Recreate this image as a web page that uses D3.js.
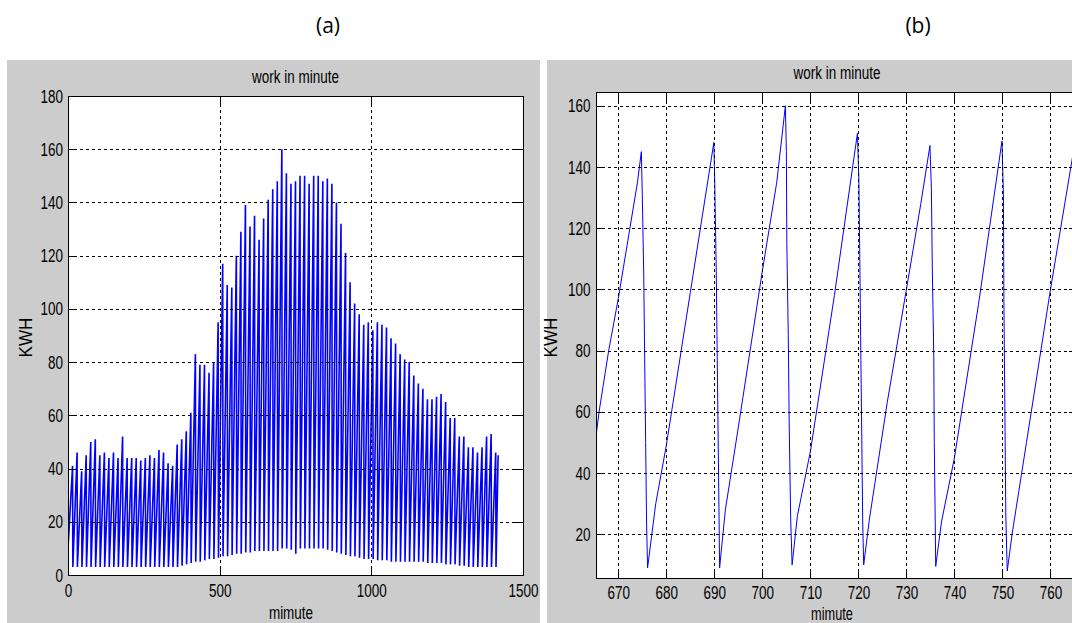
<!DOCTYPE html>
<html lang="en">
<head>
  <meta charset="UTF-8">
  <title>work in minute</title>
  <script src="https://d3js.org/d3.v7.min.js"></script>
  <style>
    body { margin: 0; background: #fff; }
    svg { display: block; }
    .lbl { font-family: "Liberation Sans", Arial, sans-serif; font-size: 19px; fill: #000; }
    .tag { font-family: "Open Sans", "Liberation Sans", sans-serif; font-size: 21px; fill: #000; }
    .grid line { stroke: #000; stroke-dasharray: 3,3; shape-rendering: crispEdges; }
    .ticks line { stroke: #000; shape-rendering: crispEdges; }
  </style>
</head>
<body>
<div id="chart"></div>
<script>
// (a) whole day: one charge/discharge cycle every 15 minutes
const aStartKwh = 10;
const aPeakKwh = [
  41, 46, 39, 45, 50, 51, 45, 46, 44, 46,
  44, 52, 44, 44, 44, 43, 44, 45, 44, 47,
  46, 42, 41, 49, 51, 54, 61, 83, 79, 79,
  76, 80, 95, 117, 109, 108, 120, 129, 139, 131,
  135, 126, 134, 141, 145, 148, 160, 151, 147, 148,
  150, 150, 147, 150, 150, 148, 149, 147, 140, 132,
  121, 110, 102, 98, 94, 95, 92, 95, 94, 93,
  89, 87, 83, 81, 80, 75, 72, 70, 66, 66,
  67, 68, 65, 59, 59, 52, 52, 48, 48, 46,
  48, 52, 53, 46
];
const aTroughKwh = [
  3, 3, 3, 3, 3, 3, 3, 3, 3, 3,
  3, 3, 3, 3, 3, 3, 3, 3, 3, 3,
  3, 3, 3, 3, 3.5, 4, 4.5, 5, 5, 5.5,
  6, 6, 6.5, 7, 7, 7.5, 8, 8, 8.5, 8.5,
  9, 9, 9, 9, 9, 9, 10, 10, 9.5, 8,
  10, 10, 10, 10, 10, 10, 9.5, 9, 8.5, 8,
  7.5, 7, 7, 6.5, 6, 6, 6, 5.5, 5.5, 5.5,
  5, 5, 5, 5, 5, 5, 5, 5, 4.5, 4.5,
  4.5, 4.5, 4, 4, 4, 3.5, 3.5, 3, 3, 3,
  3, 3, 3, 3
];
const aEndMinute = 1418;
const aEndKwh = 45;
const aXTicks = [0, 500, 1000, 1500];
const aYTicks = [0, 20, 40, 60, 80, 100, 120, 140, 160, 180];

// (b) zoom on minutes 665..766
const bMinute = [
  665.36, 666, 668, 670, 672, 674, 674.8, 675.0, 675.3, 675.5, 675.7, 675.9, 676.1,
  677.8, 680, 685, 689.9, 690.1, 690.4, 690.6, 690.8, 691.0, 691.1,
  692.3, 695, 700, 703, 704.8, 705.0, 705.1, 705.4, 705.6, 705.9, 706.2,
  707.3, 710, 715, 719.8, 720.1, 720.3, 720.5, 720.7, 720.9, 721.1,
  722.3, 726, 730, 733, 734.9, 735.2, 735.4, 735.7, 735.8, 736.0, 736.1,
  737.3, 740, 745, 749.9, 750.2, 750.3, 750.5, 750.7, 751.0,
  752, 755, 760, 765.2
];
const bKwh = [
  52, 60, 80, 97, 116, 135, 145, 131, 105, 77, 50, 23, 9,
  30, 49, 99, 148, 134, 106, 78, 51, 23, 9,
  28, 55, 106, 135, 160, 145, 115, 85, 55, 25, 10,
  26, 47, 98, 151, 136, 109, 80, 52, 24, 10,
  25, 63, 100, 128, 147, 133, 106, 78, 50, 24, 9.5,
  24, 45, 95, 148.5, 131, 96, 61, 26, 8,
  20, 50, 100, 149
];
const bXTicks = [670, 680, 690, 700, 710, 720, 730, 740, 750, 760];
const bYTicks = [20, 40, 60, 80, 100, 120, 140, 160];

// build the (a) series: peak at the end of each cycle, trough one minute later
const aSeries = [[0, aStartKwh]];
aPeakKwh.forEach((p, i) => {
  const m = 15 * (i + 1);
  aSeries.push([m, p]);
  aSeries.push([m + 1, aTroughKwh[i]]);
});
aSeries.push([aEndMinute, aEndKwh]);
const bSeries = bMinute.map((m, i) => [m, bKwh[i]]);

const SX = 0.71;  // matlab's tall narrow font

const svg = d3.select("#chart").append("svg")
  .attr("width", 1072)
  .attr("height", 623);

function squeezed(g, x, y, str, opts = {}) {
  const rot = opts.rotate ? ` rotate(${opts.rotate})` : "";
  const t = g.append("text")
    .attr("class", "lbl")
    .attr("text-anchor", "middle")
    .attr("transform", `translate(${x},${y})${rot} scale(${opts.sx || SX},1)`)
    .text(str);
  if (opts.size) t.style("font-size", opts.size + "px");
  return t;
}

function drawPanel(p) {
  const g = svg.append("g");
  g.append("rect")
    .attr("x", p.bg[0]).attr("y", p.bg[1])
    .attr("width", p.bg[2]).attr("height", p.bg[3])
    .attr("fill", "#cccccc");

  const x = d3.scaleLinear().domain(p.xDomain).range([p.left, p.right]);
  const y = d3.scaleLinear().domain(p.yDomain).range([p.bottom, p.top]);
  const w = p.right - p.left;
  const h = p.bottom - p.top;
  const fmt = d3.format("d");

  g.append("rect")
    .attr("x", p.left).attr("y", p.top)
    .attr("width", w).attr("height", h)
    .attr("fill", "#fff");

  g.append("clipPath").attr("id", p.id + "-clip")
    .append("rect")
    .attr("x", p.left).attr("y", p.top)
    .attr("width", w).attr("height", h);

  const line = d3.line().x(d => x(d[0])).y(d => y(d[1]));
  g.append("path")
    .datum(p.series)
    .attr("clip-path", `url(#${p.id}-clip)`)
    .attr("fill", "none")
    .attr("stroke", "#0000ff")
    .attr("stroke-width", p.lineWidth)
    .attr("d", line);

  // dotted grid on top of the data
  g.append("g").attr("class", "grid")
    .attr("transform", `translate(0,${p.bottom})`)
    .call(d3.axisBottom(x).tickValues(p.xTicks).tickSize(-h).tickFormat(""))
    .call(s => s.select(".domain").remove());
  g.append("g").attr("class", "grid")
    .attr("transform", `translate(${p.left},0)`)
    .call(d3.axisLeft(y).tickValues(p.yTicks).tickSize(-w).tickFormat(""))
    .call(s => s.select(".domain").remove());

  // inside ticks on all four sides
  const tk = 9;
  const bottomAxis = g.append("g").attr("class", "ticks")
    .attr("transform", `translate(0,${p.bottom})`)
    .call(d3.axisBottom(x).tickValues(p.xTicks).tickFormat(fmt)
      .tickSizeInner(-tk).tickSizeOuter(0).tickPadding(p.xPad));
  const leftAxis = g.append("g").attr("class", "ticks")
    .attr("transform", `translate(${p.left},0)`)
    .call(d3.axisLeft(y).tickValues(p.yTicks).tickFormat(fmt)
      .tickSizeInner(-tk).tickSizeOuter(0).tickPadding(0));
  g.append("g").attr("class", "ticks")
    .attr("transform", `translate(0,${p.top})`)
    .call(d3.axisTop(x).tickValues(p.xTicks).tickSizeInner(-tk).tickSizeOuter(0).tickFormat(""));
  g.append("g").attr("class", "ticks")
    .attr("transform", `translate(${p.right},0)`)
    .call(d3.axisRight(y).tickValues(p.yTicks).tickSizeInner(-tk).tickSizeOuter(0).tickFormat(""));
  g.selectAll(".ticks .domain").remove();

  bottomAxis.selectAll("text")
    .attr("class", "lbl")
    .attr("transform", `scale(${SX},1)`);
  leftAxis.selectAll("text")
    .attr("class", "lbl")
    .attr("x", -p.yPad / SX)
    .attr("transform", `scale(${SX},1)`);
  g.selectAll(".ticks").attr("font-size", null).attr("font-family", null);

  g.append("rect")
    .attr("x", p.left).attr("y", p.top)
    .attr("width", w).attr("height", h)
    .attr("fill", "none")
    .attr("stroke", "#000")
    .attr("shape-rendering", "crispEdges");

  squeezed(g, (p.left + p.right) / 2, p.titleY, "work in minute");
  squeezed(g, p.xLabel[0], p.xLabel[1], "mimute", { size: p.xLabel[2] });
  squeezed(g, p.yLabel[0], p.yLabel[1], "KWH", { rotate: -90, sx: 0.9 });

  svg.append("text")
    .attr("class", "tag")
    .attr("text-anchor", "middle")
    .attr("x", p.tag[0]).attr("y", p.tag[1])
    .text(p.tagText);
}

drawPanel({
  id: "a", series: aSeries, lineWidth: 1.6,
  bg: [7, 60, 533, 563],
  left: 68, right: 523, top: 96, bottom: 575,
  xDomain: [0, 1500], yDomain: [0, 180],
  xTicks: aXTicks, yTicks: aYTicks,
  xPad: 9, yPad: 5,
  titleY: 83, xLabel: [291, 619, 19], yLabel: [31.5, 337.5],
  tag: [328, 33], tagText: "(a)"
});

drawPanel({
  id: "b", series: bSeries, lineWidth: 1,
  bg: [547, 60, 525, 563],
  left: 596, right: 1078, top: 92, bottom: 578,
  xDomain: [665.36, 765.73], yDomain: [5.7, 164.5],
  xTicks: bXTicks, yTicks: bYTicks,
  xPad: 8, yPad: 5.6,
  titleY: 78.5, xLabel: [832, 620, 18], yLabel: [557, 337.5],
  tag: [918, 33], tagText: "(b)"
});
</script>
</body>
</html>
